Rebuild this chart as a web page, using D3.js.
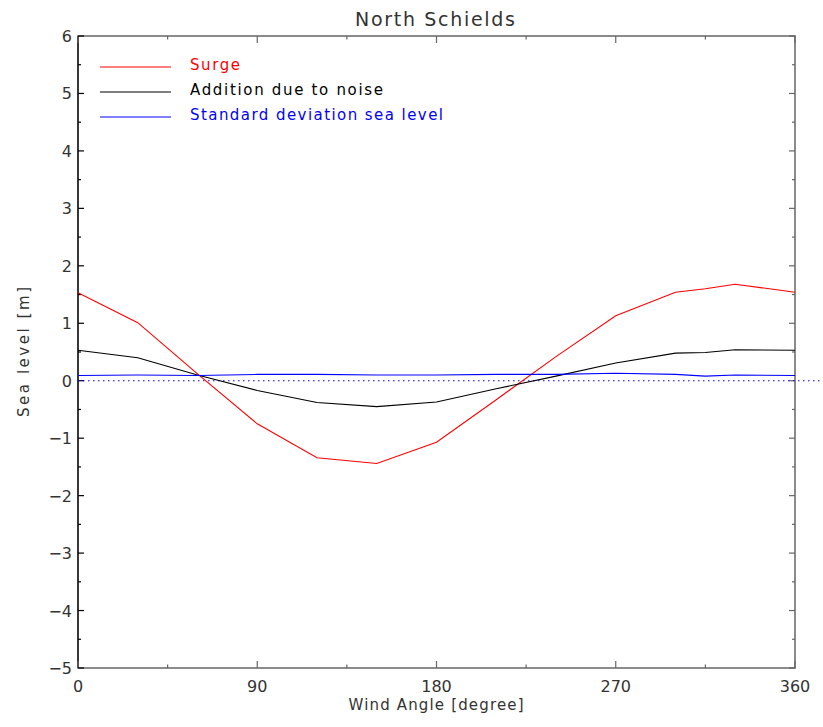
<!DOCTYPE html>
<html>
<head>
<meta charset="utf-8">
<script src="https://cdn.jsdelivr.net/npm/d3@7"></script>
<style>
  body { margin: 0; background: #fff; }
  text { font-family: "DejaVu Sans", sans-serif; font-weight: normal; }
</style>
</head>
<body>
<div id="chart"></div>
<script>
// wind angle in degrees
const angles = [0, 30, 60, 90, 120, 150, 180, 210, 240, 270, 300, 315, 330, 360];
const surge = [1.53, 1.01, 0.12, -0.75, -1.34, -1.44, -1.07, -0.33, 0.42, 1.13, 1.54, 1.60, 1.68, 1.54];
const noise = [0.53, 0.40, 0.10, -0.17, -0.38, -0.45, -0.37, -0.14, 0.08, 0.31, 0.48, 0.49, 0.54, 0.53];
const stdSea = [0.09, 0.10, 0.09, 0.11, 0.11, 0.10, 0.10, 0.11, 0.11, 0.13, 0.11, 0.08, 0.10, 0.09];
const xTicks = [0, 90, 180, 270, 360];
const yTicks = [-5, -4, -3, -2, -1, 0, 1, 2, 3, 4, 5, 6];
const legendNames = ['Surge', 'Addition due to noise', 'Standard deviation sea level'];

const width = 823, height = 727;
const margin = { left: 78, top: 36, right: 28, bottom: 59 };
const w = width - margin.left - margin.right;
const h = height - margin.top - margin.bottom;

const svg = d3.select('#chart').append('svg')
    .attr('width', width)
    .attr('height', height);

const x = d3.scaleLinear().domain([0, 360]).range([margin.left, margin.left + w]);
const y = d3.scaleLinear().domain([-5, 6]).range([margin.top + h, margin.top]);

// frame
const frameColor = '#666';
svg.append('rect')
    .attr('x', margin.left).attr('y', margin.top)
    .attr('width', w).attr('height', h)
    .attr('fill', 'none').attr('stroke', frameColor).attr('stroke-width', 1.5);
svg.append('line')
    .attr('x1', margin.left).attr('x2', margin.left)
    .attr('y1', margin.top).attr('y2', margin.top + h)
    .attr('stroke', '#000').attr('stroke-width', 1.2);

// ticks (major and minor) on all four sides
const xMinor = d3.range(45, 360, 90);
const yMinor = d3.range(-4.5, 6, 1);
const tickG = svg.append('g').attr('stroke', frameColor).attr('stroke-width', 1.2);
function xTickMarks(vals, len) {
    vals.forEach(v => {
        tickG.append('line').attr('x1', x(v)).attr('x2', x(v))
            .attr('y1', margin.top + h).attr('y2', margin.top + h - len);
        tickG.append('line').attr('x1', x(v)).attr('x2', x(v))
            .attr('y1', margin.top).attr('y2', margin.top + len);
    });
}
function yTickMarks(vals, len) {
    vals.forEach(v => {
        tickG.append('line').attr('y1', y(v)).attr('y2', y(v))
            .attr('x1', margin.left).attr('x2', margin.left + len).attr('stroke', '#000');
        tickG.append('line').attr('y1', y(v)).attr('y2', y(v))
            .attr('x1', margin.left + w).attr('x2', margin.left + w - len);
    });
}
xTickMarks(xTicks, 7);
xTickMarks(xMinor, 3.5);
yTickMarks(yTicks, 6);
yTickMarks(yMinor, 3);

const textColor = '#333';

// tick labels
svg.append('g').selectAll('text').data(xTicks).join('text')
    .attr('x', d => x(d)).attr('y', 692)
    .attr('text-anchor', 'middle')
    .attr('font-size', 16).attr('fill', textColor)
    .text(d => d);
svg.append('g').selectAll('text').data(yTicks).join('text')
    .attr('x', 72).attr('y', d => y(d) + 6)
    .attr('text-anchor', 'end')
    .attr('font-size', 16).attr('fill', textColor)
    .text(d => d < 0 ? '\u2212' + Math.abs(d) : d);

// titles
svg.append('text')
    .attr('x', 435).attr('y', 26)
    .attr('text-anchor', 'middle')
    .attr('font-size', 19).attr('fill', textColor)
    .attr('textLength', 160).attr('lengthAdjust', 'spacing')
    .text('North Schields');
svg.append('text')
    .attr('x', 436).attr('y', 710)
    .attr('text-anchor', 'middle')
    .attr('font-size', 15).attr('fill', textColor)
    .attr('textLength', 175).attr('lengthAdjust', 'spacing')
    .text('Wind Angle [degree]');
svg.append('text')
    .attr('transform', 'translate(29,352) rotate(-90)')
    .attr('text-anchor', 'middle')
    .attr('font-size', 15).attr('fill', textColor)
    .attr('textLength', 130).attr('lengthAdjust', 'spacing')
    .text('Sea level [m]');

// zero line
svg.append('line')
    .attr('x1', x(0)).attr('x2', x(360) + 28)
    .attr('y1', y(0)).attr('y2', y(0))
    .attr('stroke', '#00f').attr('stroke-width', 1.2)
    .attr('stroke-dasharray', '1.5,3.5');

// series
const series = [
    { name: legendNames[0], values: surge, color: '#ff0000' },
    { name: legendNames[1], values: noise, color: '#000000' },
    { name: legendNames[2], values: stdSea, color: '#0000ff' }
];
const line = d3.line().x(d => x(d[0])).y(d => y(d[1]));
series.forEach(s => {
    svg.append('path')
        .datum(angles.map((a, i) => [a, s.values[i]]))
        .attr('d', line)
        .attr('fill', 'none')
        .attr('stroke', s.color)
        .attr('stroke-width', 1.1);
});

// legend
const legendLens = [50, 193, 253];
series.forEach((s, i) => {
    const ly = 67 + i * 25;
    svg.append('line')
        .attr('x1', 100).attr('x2', 171)
        .attr('y1', ly).attr('y2', ly)
        .attr('stroke', s.color).attr('stroke-width', 1.1);
    svg.append('text')
        .attr('x', 190).attr('y', ly + 3)
        .attr('font-size', 15).attr('fill', s.color)
        .attr('textLength', legendLens[i]).attr('lengthAdjust', 'spacing')
        .text(s.name);
});
</script>
</body>
</html>
